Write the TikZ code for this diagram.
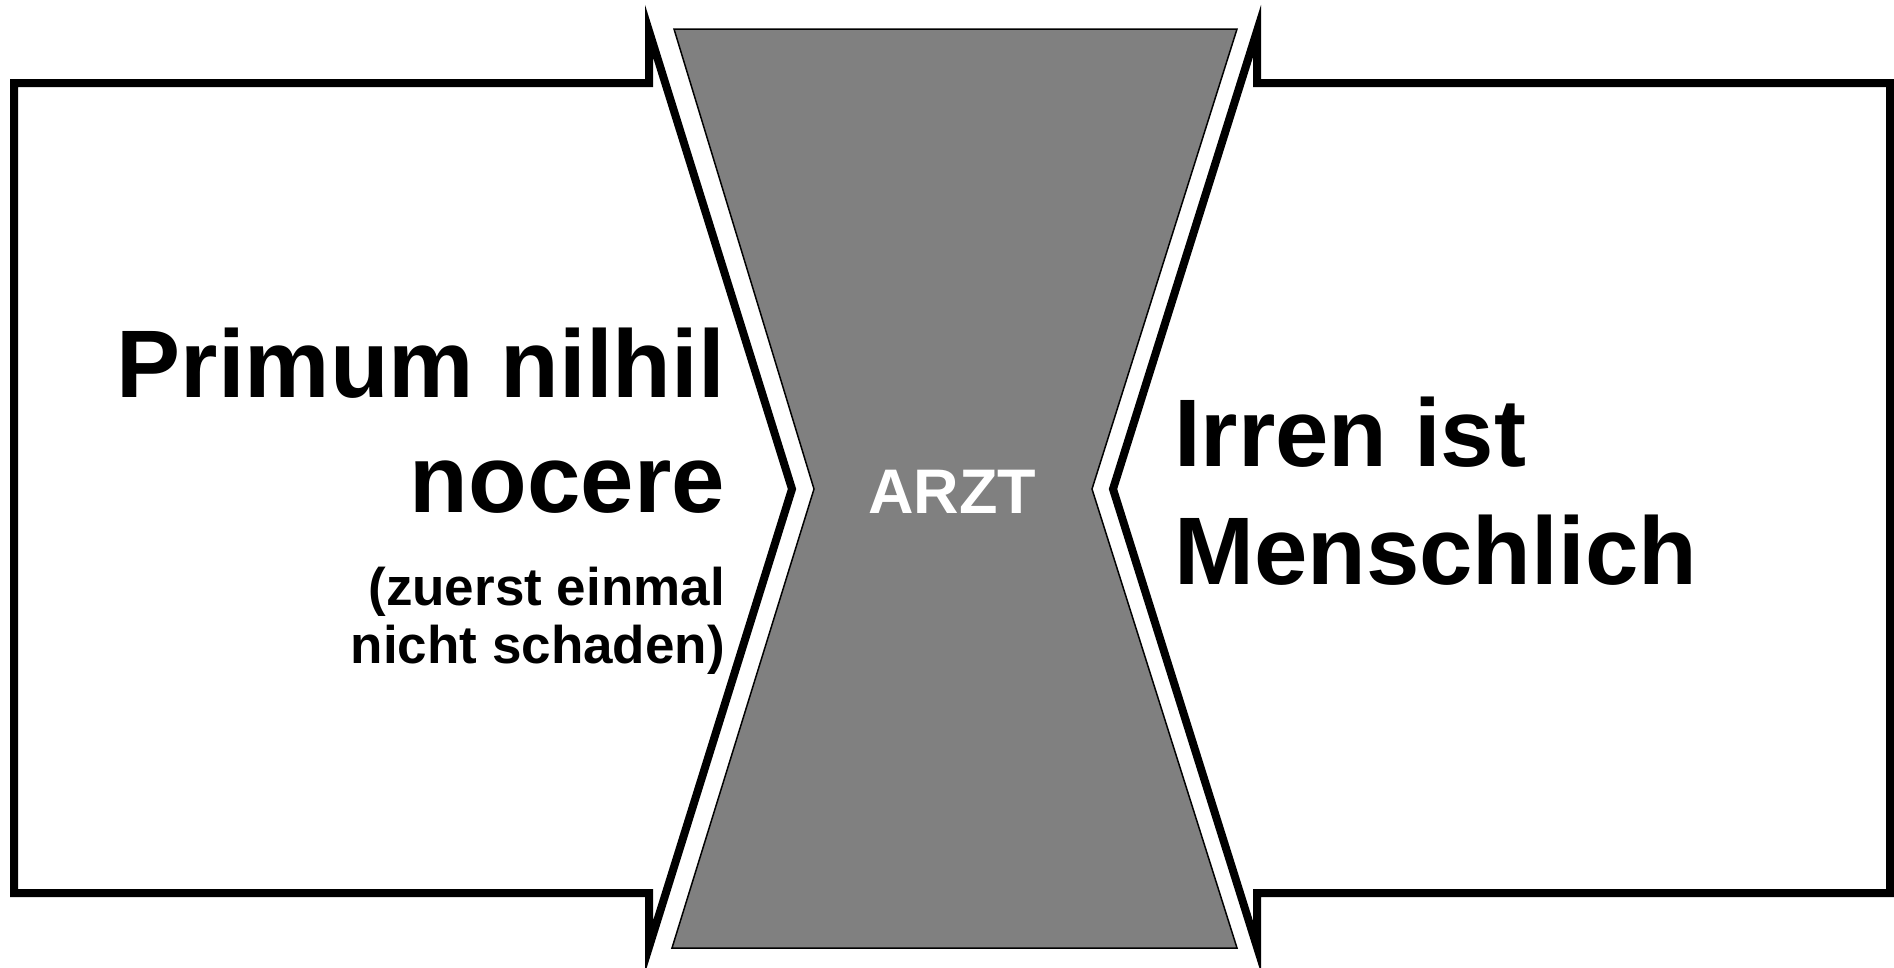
\documentclass[tikz,border=0pt]{standalone}
\usepackage{fontspec}
\setmainfont{Liberation Sans}
\definecolor{coregray}{RGB}{128,128,128}
\begin{document}
\begin{tikzpicture}[x=1pt,y=-1pt,
  outline/.style={draw=black,line width=8pt,line join=miter,miter limit=20},
  core/.style={fill=coregray,draw=black,line width=1.5pt,line join=miter,miter limit=20},
  bigtxt/.style={font=\fontsize{96}{116}\selectfont\bfseries,inner sep=0pt},
  smalltxt/.style={font=\fontsize{53}{58}\selectfont\bfseries,inner sep=0pt},
  arzttxt/.style={font=\fontsize{63}{70}\selectfont\bfseries,text=white,inner sep=0pt}]
\useasboundingbox (0,0) rectangle (1894,967);
% left frame
\draw[outline] (14,83) -- (649,83) -- (649,31) -- (792,489) -- (649,947) -- (649,893) -- (14,893) -- cycle;
% right frame
\draw[outline] (1890,83) -- (1257,83) -- (1257,31) -- (1113,489) -- (1257,947) -- (1257,893) -- (1890,893) -- cycle;
% central hourglass
\draw[core] (674,29) -- (1237,29) -- (1092,489) -- (1237,948) -- (672,948) -- (814,489) -- cycle;
% texts
\node[bigtxt,anchor=base east] (l1) at (725,397) {Primum nilhil};
\node[bigtxt,anchor=base east] (l2) at (725,512) {nocere};
\node[smalltxt,anchor=base east] (l3) at (725,605) {(zuerst einmal};
\node[smalltxt,anchor=base east] (l4) at (725,663) {nicht schaden)};
\node[bigtxt,anchor=base west] (r1) at (1174,466) {Irren ist};
\node[bigtxt,anchor=base west] (r2) at (1174,584) {Menschlich};
\node[arzttxt,anchor=base] (arzt) at (952,513) {ARZT};
\end{tikzpicture}
\end{document}
